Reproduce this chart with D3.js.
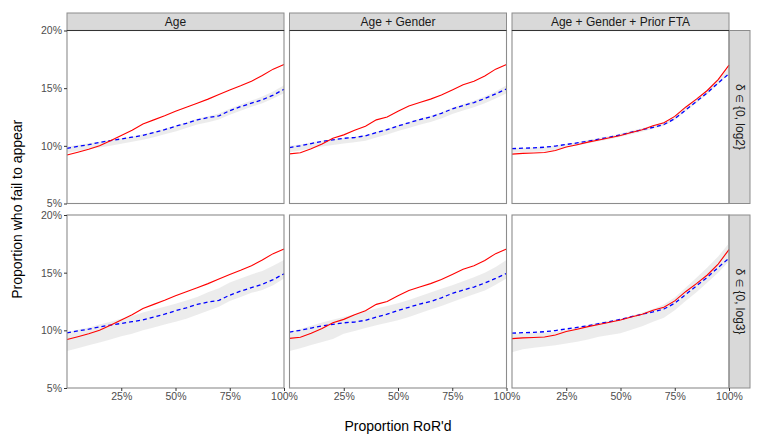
<!DOCTYPE html>
<html>
<head>
<meta charset="utf-8">
<script src="https://cdn.jsdelivr.net/npm/d3@7"></script>
<style>
  body { margin: 0; background: #fff; }
  svg { font-family: "Liberation Sans", Arial, sans-serif; }
</style>
</head>
<body>
<div class="canvas"></div>
<script>
// categories
const models = ["Age", "Age + Gender", "Age + Gender + Prior FTA"];
const deltas = ["δ ∈ {0, log2}", "δ ∈ {0, log3}"];
const yTicks = [0.05, 0.10, 0.15, 0.20];
const xTicks = [0.25, 0.50, 0.75, 1.00];

// proportion RoR'd
const rorP = [0, 0.05, 0.10, 0.15, 0.20, 0.25, 0.30, 0.35, 0.40, 0.45, 0.50,
              0.55, 0.60, 0.65, 0.70, 0.75, 0.80, 0.85, 0.90, 0.95, 1.00];

// observed (red) per model
const observed = [
  [0.0920, 0.0945, 0.0970, 0.1000, 0.1045, 0.1090, 0.1135, 0.1190, 0.1225, 0.1260, 0.1300,
   0.1335, 0.1370, 0.1405, 0.1445, 0.1485, 0.1520, 0.1560, 0.1610, 0.1665, 0.1705],
  [0.0930, 0.0940, 0.0975, 0.1015, 0.1065, 0.1095, 0.1135, 0.1170, 0.1225, 0.1250, 0.1300,
   0.1345, 0.1375, 0.1405, 0.1440, 0.1485, 0.1530, 0.1560, 0.1605, 0.1665, 0.1705],
  [0.0928, 0.0935, 0.0938, 0.0942, 0.0960, 0.0990, 0.1010, 0.1032, 0.1050, 0.1070, 0.1090,
   0.1115, 0.1140, 0.1175, 0.1200, 0.1255, 0.1335, 0.1405, 0.1480, 0.1575, 0.1700]
];

// estimate (blue dashed) per model
const estimate = [
  [0.0978, 0.0995, 0.1010, 0.1030, 0.1045, 0.1060, 0.1075, 0.1090, 0.1115, 0.1140, 0.1170,
   0.1195, 0.1225, 0.1245, 0.1260, 0.1305, 0.1340, 0.1370, 0.1400, 0.1440, 0.1490],
  [0.0985, 0.1000, 0.1020, 0.1038, 0.1052, 0.1065, 0.1072, 0.1087, 0.1115, 0.1140, 0.1172,
   0.1200, 0.1228, 0.1250, 0.1282, 0.1320, 0.1350, 0.1375, 0.1410, 0.1450, 0.1493],
  [0.0975, 0.0980, 0.0982, 0.0988, 0.0998, 0.1012, 0.1025, 0.1040, 0.1058, 0.1075, 0.1095,
   0.1118, 0.1140, 0.1160, 0.1185, 0.1235, 0.1310, 0.1385, 0.1460, 0.1545, 0.1625]
];

// ribbon bounds [row][model]
const bandLow = [
  [
    [0.0940, 0.0955, 0.0970, 0.0985, 0.1000, 0.1018, 0.1035, 0.1052, 0.1075, 0.1100, 0.1125,
     0.1155, 0.1185, 0.1205, 0.1228, 0.1270, 0.1305, 0.1338, 0.1370, 0.1410, 0.1455],
    [0.0945, 0.0960, 0.0978, 0.0995, 0.1008, 0.1020, 0.1030, 0.1045, 0.1072, 0.1098, 0.1128,
     0.1155, 0.1183, 0.1207, 0.1238, 0.1275, 0.1307, 0.1335, 0.1370, 0.1410, 0.1455],
    [0.0940, 0.0945, 0.0948, 0.0953, 0.0965, 0.0985, 0.1003, 0.1022, 0.1040, 0.1058, 0.1078,
     0.1100, 0.1122, 0.1148, 0.1175, 0.1225, 0.1300, 0.1372, 0.1448, 0.1535, 0.1620]
  ],
  [
    [0.0820, 0.0845, 0.0870, 0.0895, 0.0920, 0.0948, 0.0970, 0.1000, 0.1025, 0.1050, 0.1075,
     0.1100, 0.1135, 0.1170, 0.1205, 0.1255, 0.1290, 0.1325, 0.1350, 0.1390, 0.1450],
    [0.0820, 0.0845, 0.0872, 0.0898, 0.0925, 0.0971, 0.0995, 0.1020, 0.1045, 0.1065, 0.1087,
     0.1115, 0.1148, 0.1180, 0.1212, 0.1246, 0.1280, 0.1312, 0.1345, 0.1395, 0.1450],
    [0.0810, 0.0835, 0.0850, 0.0860, 0.0870, 0.0885, 0.0902, 0.0920, 0.0945, 0.0960, 0.0975,
     0.1005, 0.1035, 0.1075, 0.1110, 0.1175, 0.1255, 0.1330, 0.1415, 0.1500, 0.1600]
  ]
];
const bandHigh = [
  [
    [0.0995, 0.1008, 0.1022, 0.1035, 0.1050, 0.1066, 0.1082, 0.1100, 0.1123, 0.1148, 0.1175,
     0.1205, 0.1235, 0.1256, 0.1280, 0.1322, 0.1358, 0.1392, 0.1428, 0.1472, 0.1525],
    [0.1000, 0.1012, 0.1030, 0.1045, 0.1058, 0.1068, 0.1078, 0.1095, 0.1122, 0.1148, 0.1178,
     0.1207, 0.1236, 0.1260, 0.1292, 0.1330, 0.1362, 0.1390, 0.1428, 0.1472, 0.1525],
    [0.0978, 0.0982, 0.0986, 0.0990, 0.1000, 0.1016, 0.1032, 0.1050, 0.1068, 0.1086, 0.1106,
     0.1130, 0.1152, 0.1178, 0.1205, 0.1258, 0.1335, 0.1410, 0.1488, 0.1580, 0.1680]
  ],
  [
    [0.0985, 0.1005, 0.1025, 0.1050, 0.1075, 0.1100, 0.1125, 0.1155, 0.1180, 0.1205, 0.1230,
     0.1258, 0.1290, 0.1330, 0.1365, 0.1415, 0.1450, 0.1485, 0.1515, 0.1560, 0.1610],
    [0.0985, 0.1012, 0.1040, 0.1068, 0.1092, 0.1116, 0.1140, 0.1165, 0.1190, 0.1212, 0.1235,
     0.1262, 0.1295, 0.1328, 0.1360, 0.1390, 0.1425, 0.1460, 0.1500, 0.1550, 0.1610],
    [0.0972, 0.0975, 0.0978, 0.0982, 0.0988, 0.1005, 0.1025, 0.1048, 0.1068, 0.1085, 0.1100,
     0.1125, 0.1155, 0.1185, 0.1225, 0.1285, 0.1370, 0.1455, 0.1545, 0.1640, 0.1755]
  ]
];

const width = 763, height = 445;
const svg = d3.select(".canvas").append("svg")
  .attr("width", width)
  .attr("height", height);

// facet grid geometry
const colLeft = [67, 289.5, 512];
const panelW = 217;
const rowTop = [30.5, 215];
const panelH = 173;
const stripTop = 13, stripRight = 750;

const pct = d3.format(".0%");

models.forEach((m, c) => {
  // top strip
  svg.append("rect")
    .attr("x", colLeft[c]).attr("y", stripTop)
    .attr("width", panelW).attr("height", rowTop[0] - stripTop)
    .attr("fill", "#d9d9d9").attr("stroke", "#8c8c8c").attr("stroke-width", 1);
  svg.append("line")
    .attr("x1", colLeft[c]).attr("x2", colLeft[c] + panelW)
    .attr("y1", rowTop[0]).attr("y2", rowTop[0])
    .attr("stroke", "#333").attr("stroke-width", 1);
  svg.append("text")
    .attr("x", colLeft[c] + panelW / 2).attr("y", (stripTop + rowTop[0]) / 2 + 4.5)
    .attr("text-anchor", "middle").attr("font-size", 12).attr("fill", "#1a1a1a")
    .text(m);
});

deltas.forEach((d, r) => {
  // right strip
  const top = rowTop[r];
  svg.append("rect")
    .attr("x", colLeft[2] + panelW).attr("y", top)
    .attr("width", stripRight - colLeft[2] - panelW).attr("height", panelH)
    .attr("fill", "#d9d9d9").attr("stroke", "#8c8c8c").attr("stroke-width", 1);
  // split label so the ∈ sign comes from a font that has it
  const parts = d.split("∈");
  const lbl = svg.append("text")
    .attr("transform", `translate(${colLeft[2] + panelW + 6.5}, ${top + panelH / 2}) rotate(90)`)
    .attr("text-anchor", "middle").attr("font-size", 12).attr("fill", "#1a1a1a");
  lbl.append("tspan").text(parts[0]);
  lbl.append("tspan").attr("font-family", "DejaVu Sans").attr("font-size", 10).text("∈");
  lbl.append("tspan").text(parts[1]);

  models.forEach((m, c) => {
    const x = d3.scaleLinear().domain([0, 1]).range([colLeft[c], colLeft[c] + panelW]);
    const y = d3.scaleLinear().domain([0.05, 0.20]).range([top + panelH, top]);
    const g = svg.append("g");

    const rows = rorP.map((p, i) => ({
      p, lo: bandLow[r][c][i], hi: bandHigh[r][c][i],
      obs: observed[c][i], est: estimate[c][i]
    }));

    g.append("path").datum(rows)
      .attr("fill", "#c4c4c4").attr("fill-opacity", 0.33)
      .attr("d", d3.area().x(e => x(e.p)).y0(e => y(e.lo)).y1(e => y(e.hi)));

    g.append("path").datum(rows)
      .attr("fill", "none").attr("stroke", "#0000ff").attr("stroke-width", 1.3)
      .attr("stroke-dasharray", "4,3")
      .attr("d", d3.line().x(e => x(e.p)).y(e => y(e.est)));

    g.append("path").datum(rows)
      .attr("fill", "none").attr("stroke", "#ff0000").attr("stroke-width", 1.1)
      .attr("d", d3.line().x(e => x(e.p)).y(e => y(e.obs)));

    // panel border
    g.append("rect")
      .attr("x", colLeft[c]).attr("y", top)
      .attr("width", panelW).attr("height", panelH)
      .attr("fill", "none").attr("stroke", "#8c8c8c").attr("stroke-width", 1.1);
    if (r === 0) {
      g.append("line")
        .attr("x1", colLeft[c]).attr("x2", colLeft[c] + panelW)
        .attr("y1", top).attr("y2", top)
        .attr("stroke", "#333").attr("stroke-width", 1);
    }

    // axes
    if (c === 0) {
      const ya = svg.append("g")
        .attr("transform", `translate(${colLeft[c]},0)`)
        .call(d3.axisLeft(y).tickValues(yTicks).tickFormat(pct).tickSize(3).tickPadding(2));
      ya.select(".domain").remove();
      ya.selectAll("line").attr("stroke", "#333");
      ya.selectAll("text").attr("fill", "#4d4d4d").attr("font-size", 10.5)
        .attr("font-family", "Liberation Sans, Arial, sans-serif");
    }
    if (r === 1) {
      const xa = svg.append("g")
        .attr("transform", `translate(0,${top + panelH})`)
        .call(d3.axisBottom(x).tickValues(xTicks).tickFormat(pct).tickSize(3).tickPadding(2));
      xa.select(".domain").remove();
      xa.selectAll("line").attr("stroke", "#333");
      xa.selectAll("text").attr("fill", "#4d4d4d").attr("font-size", 10.5)
        .attr("font-family", "Liberation Sans, Arial, sans-serif");
    }
  });
});

// axis titles
svg.append("text")
  .attr("x", (colLeft[0] + colLeft[2] + panelW) / 2).attr("y", 431)
  .attr("text-anchor", "middle").attr("font-size", 14).attr("fill", "#000")
  .text("Proportion RoR'd");
svg.append("text")
  .attr("transform", `translate(22, ${(rowTop[0] + rowTop[1] + panelH) / 2}) rotate(-90)`)
  .attr("text-anchor", "middle").attr("font-size", 14).attr("fill", "#000")
  .text("Proportion who fail to appear");
</script>
</body>
</html>
